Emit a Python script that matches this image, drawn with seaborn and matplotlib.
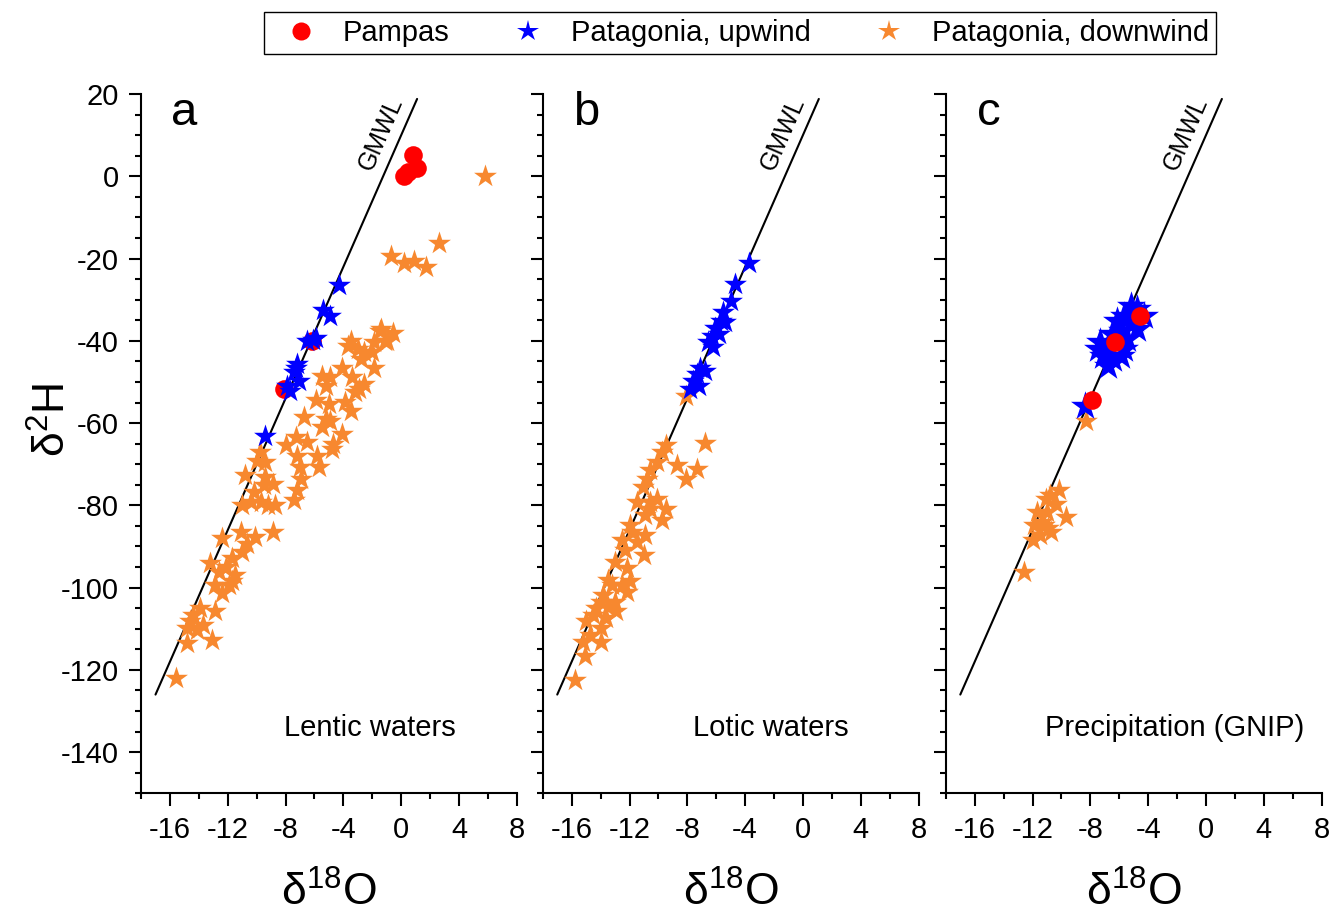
import numpy as np
import pandas as pd
import matplotlib
matplotlib.use("Agg")
import matplotlib.pyplot as plt
from matplotlib.ticker import MultipleLocator
from matplotlib.lines import Line2D
import seaborn as sns

# ---------------- data ----------------
# Panel a: lentic waters
a_pampas_x = [0.8, 1.1, 0.2, 0.5, -6.2, -8.1]
a_pampas_y = [5.2, 2.0, 0.0, 1.0, -40.0, -51.7]

a_up_x = [-4.3, -5.4, -4.9, -6.5, -5.9, -6.1, -7.2, -7.4, -7.1, -7.9, -7.7, -9.4, -7.3]
a_up_y = [-26.4, -32.5, -33.9, -40.0, -39.2, -39.8, -45.6, -47.7, -49.7, -50.9, -52.1, -63.2, -46.5]

a_down_x = [5.8, 2.6, -0.7, 0.2, 0.9, 1.7,
            -0.6, -1.4, -1.1, -1.9, -3.5, -3.7, -3.0, -2.6, -2.0, -2.8, -1.9, -4.1,
            -3.4, -5.5, -4.9, -5.2, -2.6, -2.9, -3.2, -5.9, -5.0, -3.9, -3.5, -6.7,
            -5.2, -4.9, -5.5, -4.1, -4.7, -4.8, -7.3, -6.5, -8.0, -5.8, -5.7, -7.2,
            -7.0, -9.8, -10.0, -9.4, -10.8, -9.4, -6.9, -8.9, -9.5, -7.2, -7.4, -10.2,
            -10.4, -11.0, -9.7, -9.2, -8.7, -8.9, -10.1, -11.1, -10.7, -12.4, -11.0,
            -11.7, -13.2, -12.1, -12.6, -11.5, -11.9, -12.9, -11.7, -12.4, -12.9,
            -13.9, -14.4, -14.6, -13.7, -14.8, -14.1, -13.1, -14.8, -15.6, -1.5, -1.0]
a_down_y = [0.1, -16.2, -19.4, -21.0, -20.6, -22.0,
            -38.0, -37.2, -40.0, -40.4, -40.0, -41.2, -42.0, -42.8, -42.8, -44.4, -46.5, -46.5,
            -48.9, -48.5, -48.9, -50.9, -50.5, -51.7, -52.5, -54.5, -55.3, -54.9, -57.0, -58.6,
            -59.0, -59.4, -61.0, -62.6, -65.0, -66.2, -63.4, -64.6, -65.4, -67.9, -70.7, -67.9,
            -70.7, -67.0, -69.1, -69.5, -72.7, -73.1, -73.5, -74.7, -75.1, -76.3, -78.8, -76.7,
            -79.2, -80.0, -79.2, -80.0, -80.0, -86.4, -87.6, -86.4, -89.3, -88.0, -91.3,
            -92.9, -94.1, -94.9, -96.1, -96.9, -99.4, -99.4, -98.5, -101.4, -105.8,
            -105.0, -106.6, -108.2, -109.0, -109.8, -110.2, -112.7, -113.5, -122.0, -37.6, -40.0]

# Panel b: lotic waters
b_up_x = [-3.75, -4.7, -5.0, -5.5, -5.7, -6.1, -5.4, -6.3, -6.6, -6.2, -5.8,
          -7.1, -7.3, -7.6, -7.2, -7.8, -6.75]
b_up_y = [-21.2, -26.3, -30.3, -33.1, -35.2, -36.8, -35.5, -38.8, -40.4, -41.6, -38.4,
          -46.5, -48.1, -49.7, -50.9, -51.7, -47.3]

b_down_x = [-8.1, -6.75, -8.7, -7.3, -8.1, -9.5, -9.75, -10.1, -10.6, -10.8, -11.1,
            -10.1, -9.5, -10.6, -9.75, -10.9, -11.5, -11.95, -10.9, -11.0, -12.5,
            -12.3, -13.0, -12.2, -13.5, -12.5, -12.2, -13.8, -13.0, -14.0, -12.9,
            -14.5, -13.6, -15.0, -14.0, -14.7, -14.0, -15.2, -15.1, -15.8,
            -11.8, -11.5, -13.2, -11.95, -14.3, -13.5, -10.6]
b_down_y = [-53.3, -64.8, -70.3, -71.1, -73.5, -65.4, -67.0, -69.5, -71.5, -73.5, -75.5,
            -78.4, -80.8, -80.8, -83.6, -82.4, -79.2, -84.8, -87.2, -92.1, -88.5,
            -90.9, -93.7, -95.3, -98.1, -99.4, -101.0, -101.8, -103.4, -103.4, -105.8,
            -106.6, -107.4, -108.2, -109.8, -111.5, -113.1, -113.1, -116.7, -122.4,
            -86.4, -88.9, -99.4, -98.5, -105.0, -104.6, -79.2]

# Panel c: precipitation (GNIP)
c_pampas_x = [-4.6, -6.3, -7.9]
c_pampas_y = [-33.9, -40.4, -54.3]

c_up_x = [-8.4, -5.2, -4.8, -4.3, -5.7, -6.15, -5.2, -4.8, -5.8, -6.5, -5.5, -7.3,
          -6.8, -5.7, -7.5, -7.1, -6.4, -6.8, -5.9, -4.9]
c_up_y = [-55.8, -31.5, -32.3, -33.9, -33.9, -35.2, -36.0, -37.2, -37.6, -38.4, -39.6, -40.4,
          -41.2, -42.0, -42.0, -43.6, -44.4, -46.1, -43.6, -34.7]

c_down_x = [-8.3, -10.2, -10.8, -11.1, -10.4, -11.7, -11.0, -9.7, -11.35, -11.9,
            -10.9, -10.7, -11.5, -12.0, -11.2, -12.6]
c_down_y = [-59.4, -76.3, -77.5, -78.4, -79.6, -81.6, -81.6, -82.8, -84.0, -84.8,
            -85.6, -86.4, -87.2, -88.5, -84.8, -96.1]

panel_letters = ["a", "b", "c"]
panel_titles = ["Lentic waters", "Lotic waters", "Precipitation (GNIP)"]
series_names = ["Pampas", "Patagonia, upwind", "Patagonia, downwind"]
gmwl_x = [-17.0, 1.1]          # GMWL: d2H = 8 * d18O + 10
x_ticks = [-16, -12, -8, -4, 0, 4, 8]
y_ticks = [-140, -120, -100, -80, -60, -40, -20, 0, 20]

# ---------------- style ----------------
sns.set_style("ticks")
plt.rcParams["font.family"] = ["Liberation Sans", "DejaVu Sans"]
plt.rcParams["mathtext.fontset"] = "custom"
plt.rcParams["mathtext.rm"] = "Liberation Sans"
plt.rcParams["mathtext.it"] = "Liberation Sans"
plt.rcParams["mathtext.bf"] = "Liberation Sans:bold"
plt.rcParams["axes.unicode_minus"] = False
for key in ["text.color", "axes.labelcolor", "xtick.color", "ytick.color", "axes.edgecolor"]:
    plt.rcParams[key] = "black"

RED = "#FF0000"
BLUE = "#0000FF"
ORANGE = "#F7882F"


def frame(x, y, name):
    return pd.DataFrame({"d18O": x, "d2H": y, "group": name})


panels = [
    [("down", frame(a_down_x, a_down_y, series_names[2])),
     ("pampas", frame(a_pampas_x, a_pampas_y, series_names[0])),
     ("up", frame(a_up_x, a_up_y, series_names[1]))],
    [("down", frame(b_down_x, b_down_y, series_names[2])),
     ("up", frame(b_up_x, b_up_y, series_names[1]))],
    [("down", frame(c_down_x, c_down_y, series_names[2])),
     ("up", frame(c_up_x, c_up_y, series_names[1])),
     ("pampas", frame(c_pampas_x, c_pampas_y, series_names[0]))],
]

fig = plt.figure(figsize=(13.32, 9.17), dpi=100)
lefts = [0.1059, 0.4075, 0.7101]
axes = []
for i, left in enumerate(lefts):
    ax = fig.add_axes([left, 0.1349, 0.2821, 0.7626])
    axes.append(ax)
    for kind, df in panels[i]:
        if kind == "pampas":
            sns.scatterplot(data=df, x="d18O", y="d2H", ax=ax, color=RED, marker="o",
                            s=180, linewidth=0, legend=False, zorder=3)
        elif kind == "up":
            size = 480 if i == 2 else 300
            sns.scatterplot(data=df, x="d18O", y="d2H", ax=ax, color=BLUE, marker="*",
                            s=size, linewidth=0, legend=False, zorder=3)
        else:
            sns.scatterplot(data=df, x="d18O", y="d2H", ax=ax, color=ORANGE, marker="*",
                            s=300, linewidth=0, legend=False, zorder=3)
    gx = np.array(gmwl_x)
    sns.lineplot(x=gx, y=8 * gx + 10, ax=ax, color="black", linewidth=1.5, zorder=2)
    ax.text(-1.38, 10.3, "GMWL", rotation=66.4, ha="center", va="center",
            fontsize=18, rotation_mode="anchor")
    ax.text(-15.0, 15.5, panel_letters[i], fontsize=34, ha="center", va="center")
    ax.text(-2.2, -134.2, panel_titles[i], fontsize=21, ha="center", va="center")

    ax.set_xlim(-18, 8)
    ax.set_ylim(-150, 20)
    ax.set_xticks(x_ticks)
    ax.set_yticks(y_ticks)
    ax.xaxis.set_minor_locator(MultipleLocator(2))
    ax.yaxis.set_minor_locator(MultipleLocator(5))
    ax.tick_params(which="major", length=9, width=1.5, labelsize=21, pad=7)
    ax.tick_params(which="minor", length=4.5, width=1.5)
    for side in ["top", "right"]:
        ax.spines[side].set_visible(False)
    for side in ["left", "bottom"]:
        ax.spines[side].set_linewidth(1.5)
    ax.set_xlabel(r"$\mathrm{\delta}^{18}$O", fontsize=32)
    ax.xaxis.set_label_coords(0.5, -0.143)
    ax.xaxis.label.set_va("center")
    if i == 0:
        ax.set_ylabel(r"$\mathrm{\delta}^{2}$H", fontsize=32)
        ax.yaxis.set_label_coords(-0.235, 0.534)
        ax.yaxis.label.set_va("center")
    else:
        ax.set_ylabel("")
        ax.tick_params(axis="y", labelleft=False)

handles = [
    Line2D([], [], linestyle="none", marker="o", color=RED, markersize=13, markeredgewidth=0),
    Line2D([], [], linestyle="none", marker="*", color=BLUE, markersize=16, markeredgewidth=0),
    Line2D([], [], linestyle="none", marker="*", color=ORANGE, markersize=16, markeredgewidth=0),
]
leg = fig.legend(handles, series_names, loc="center", bbox_to_anchor=(0.5556, 0.964),
                 ncol=3, fontsize=21, frameon=True, fancybox=False, edgecolor="black",
                 framealpha=1, handlelength=2.0, handletextpad=0.45, columnspacing=1.7,
                 borderpad=0.25, borderaxespad=0)
leg.get_frame().set_linewidth(1.0)

fig.savefig("out.png", dpi=100)
